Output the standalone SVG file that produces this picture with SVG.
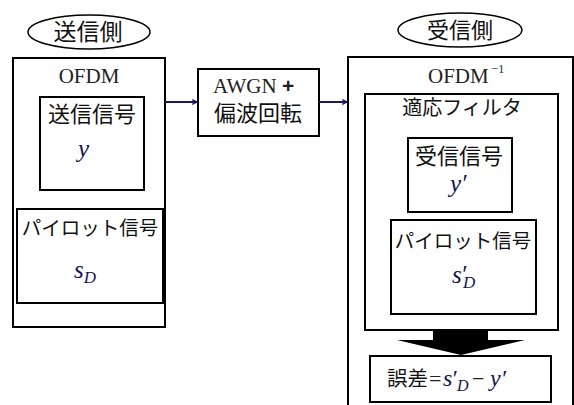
<svg xmlns="http://www.w3.org/2000/svg" width="574" height="405" viewBox="0 0 574 405">
<defs>
<style>
.b{fill:#fff;stroke:#000;stroke-width:2}
.j{font-family:"Noto Sans CJK JP","Noto Sans",sans-serif;fill:#111;text-anchor:middle}
.s{font-family:"Liberation Serif",serif;fill:#222;text-anchor:middle}
.sl{font-family:"Liberation Serif",serif;fill:#222;text-anchor:start}
.m{font-family:"Liberation Serif",serif;font-style:italic;fill:#141450}
.c{stroke:#1a1a5a;stroke-width:2;fill:none}
</style>
<marker id="ah" viewBox="0 0 10 10" refX="9" refY="5" markerWidth="6" markerHeight="6" orient="auto" markerUnits="userSpaceOnUse">
<path d="M1,1 L9,5 L1,9" fill="none" stroke="#1a1a5a" stroke-width="2"/>
</marker>
</defs>
<rect width="574" height="405" fill="#fff"/>
<g id="tx-label">
<ellipse cx="89" cy="32" rx="61" ry="17" fill="#fff" stroke="#000" stroke-width="1.5"/>
<text x="88" y="40" class="j" font-size="23">送信側</text>
</g>
<g id="rx-label">
<ellipse cx="460" cy="30" rx="62" ry="17" fill="#fff" stroke="#000" stroke-width="1.5"/>
<text x="460" y="38" class="j" font-size="22">受信側</text>
</g>
<g id="ofdm">
<rect x="13" y="58" width="152" height="269" class="b"/>
<text x="89" y="83" class="s" font-size="21">OFDM</text>
</g>
<g id="tx-signal">
<rect x="40" y="97" width="104" height="93" class="b"/>
<text x="92" y="122" class="j" font-size="22">送信信号</text>
<text x="78" y="157" class="m" font-size="25">y</text>
</g>
<g id="tx-pilot">
<rect x="17" y="209" width="146" height="94" class="b"/>
<text x="90" y="235" class="j" font-size="19.5">パイロット信号</text>
<text x="74" y="278" class="m" font-size="25">s<tspan font-size="17" dy="5">D</tspan></text>
</g>
<g id="channel">
<rect x="198" y="69" width="121" height="67" class="b"/>
<text x="213" y="93" class="sl" font-size="21">AWGN <tspan font-family="Liberation Sans,sans-serif" font-weight="bold">+</tspan></text>
<text x="258" y="121" class="j" font-size="22">偏波回転</text>
</g>
<g id="ofdm-inv">
<rect x="348" y="57" width="225" height="360" class="b"/>
<text x="428" y="83" class="sl" font-size="21">OFDM<tspan font-size="13" dx="2" dy="-10" fill="#1a4050">−1</tspan></text>
</g>
<g id="adaptive-filter">
<rect x="365" y="94" width="193" height="236" class="b"/>
<text x="462" y="115" class="j" font-size="20">適応フィルタ</text>
</g>
<g id="rx-signal">
<rect x="408" y="138" width="104" height="74" class="b"/>
<text x="459" y="164" class="j" font-size="22">受信信号</text>
<text x="450" y="192" class="m" font-size="25">y′</text>
</g>
<g id="rx-pilot">
<rect x="391" y="220" width="145" height="94" class="b"/>
<text x="452" y="283" class="m" font-size="25">s<tspan dx="-1">′</tspan><tspan x="463" font-size="17" dy="5">D</tspan></text>
<text x="463" y="248" class="j" font-size="19.5">パイロット信号</text>
</g>
<g id="error">
<rect x="370" y="356" width="181" height="46" class="b"/>
<text y="386" class="m" font-size="24"><tspan x="387" font-family="Noto Sans CJK JP,sans-serif" font-style="normal" font-size="20.5" fill="#111">誤差</tspan><tspan x="429" font-style="normal" fill="#222" font-size="22">=</tspan><tspan x="443">s</tspan><tspan dx="-1">′</tspan><tspan x="457" font-size="16" dy="5">D</tspan><tspan x="472" dy="-5" font-style="normal" fill="#222" font-size="22">−</tspan><tspan x="490">y′</tspan></text>
</g>
<g id="connectors">
<line x1="165" y1="102" x2="197" y2="102" class="c" marker-end="url(#ah)"/>
<line x1="319" y1="102" x2="347" y2="102" class="c" marker-end="url(#ah)"/>
<path d="M433,331 H488 V340 H525 L461,355 L397,340 H433 Z" fill="#000"/>
</g>
</svg>
